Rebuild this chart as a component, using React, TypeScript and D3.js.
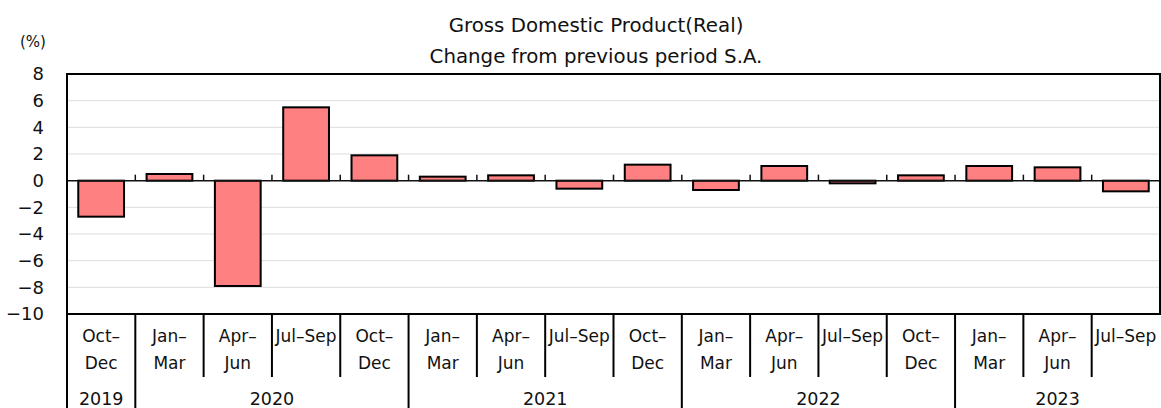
import React from 'react';
import * as d3 from 'd3';

// quarterly real GDP, % change from previous period (s.a.)
const quarterLines = [
  ['Oct\u2013', 'Dec'], ['Jan\u2013', 'Mar'], ['Apr\u2013', 'Jun'], ['Jul\u2013Sep', ''],
  ['Oct\u2013', 'Dec'], ['Jan\u2013', 'Mar'], ['Apr\u2013', 'Jun'], ['Jul\u2013Sep', ''],
  ['Oct\u2013', 'Dec'], ['Jan\u2013', 'Mar'], ['Apr\u2013', 'Jun'], ['Jul\u2013Sep', ''],
  ['Oct\u2013', 'Dec'], ['Jan\u2013', 'Mar'], ['Apr\u2013', 'Jun'], ['Jul\u2013Sep', ''],
];
const gdpValues = [-2.7, 0.5, -7.9, 5.5, 1.9, 0.3, 0.4, -0.6, 1.2, -0.7, 1.1, -0.2, 0.4, 1.1, 1.0, -0.8];
const years = ['2019', '2020', '2021', '2022', '2023'];
const yearSpans = [1, 4, 4, 4, 3];
const yTicks = [8, 6, 4, 2, 0, -2, -4, -6, -8, -10];

const W = 1161;
const H = 408;
const left = 67;
const right = 1160;
const top = 74;
const bottom = 314;
const ff = { fontFamily: "'DejaVu Sans', sans-serif" };

export default function App() {
  const idx = d3.range(gdpValues.length);
  const x = d3.scaleBand<number>().domain(idx).range([left, right]).paddingInner(0.33).paddingOuter(0.165);
  const band = d3.scaleBand<number>().domain(idx).range([left, right]);
  const y = d3.scaleLinear().domain([-10, 8]).range([bottom, top]);

  const yearStarts = yearSpans.map((_, i) => d3.sum(yearSpans.slice(0, i)));

  return (
    <svg width={W} height={H} style={{ position: 'absolute', left: 0, top: 0 }}>
      <rect width={W} height={H} fill="#fff" />
      <text x={596} y={32} textAnchor="middle" fontSize={19.8} fill="#111" style={ff}>Gross Domestic Product(Real)</text>
      <text x={596} y={63} textAnchor="middle" fontSize={19.8} fill="#111" style={ff}>Change from previous period S.A.</text>
      <text x={20} y={47} fontSize={15} fill="#111" style={ff}>(%)</text>

      {yTicks.filter(t => t !== 8 && t !== -10 && t !== 0).map(t => (
        <line key={t} x1={left} x2={right} y1={y(t)} y2={y(t)} stroke="#ddd" strokeWidth={1} />
      ))}
      {yTicks.map(t => (
        <text key={t} x={44} y={y(t)} dy="0.36em" textAnchor="end" fontSize={18} fill="#111" style={ff}>
          {d3.format('')(t).replace('-', '\u2212')}
        </text>
      ))}

      {idx.map(i => (
        <rect
          key={i}
          x={x(i)}
          y={y(Math.max(0, gdpValues[i]))}
          width={x.bandwidth()}
          height={Math.abs(y(gdpValues[i]) - y(0))}
          fill="#ff8080"
          stroke="#000"
          strokeWidth={2}
        />
      ))}

      <line x1={left} x2={right} y1={y(0)} y2={y(0)} stroke="#111" strokeWidth={1.5} />
      {idx.slice(1).map(i => (
        <line key={i} x1={band(i)} x2={band(i)} y1={y(0)} y2={y(0) - 6} stroke="#111" strokeWidth={1.5} />
      ))}

      <rect x={left} y={top} width={right - left} height={bottom - top} fill="none" stroke="#000" strokeWidth={2} />
      <line x1={left} x2={left} y1={bottom} y2={H} stroke="#000" strokeWidth={2} />

      {idx.slice(1).map(i => {
        const isYear = yearStarts.includes(i);
        return (
          <line key={i} x1={band(i)} x2={band(i)} y1={bottom} y2={isYear ? H : 377} stroke="#000" strokeWidth={2} />
        );
      })}

      {idx.map(i => (
        <g key={i} fontSize={17} fill="#111" textAnchor="middle" style={ff}>
          <text x={(band(i) as number) + band.bandwidth() / 2} y={342}>{quarterLines[i][0]}</text>
          <text x={(band(i) as number) + band.bandwidth() / 2} y={369}>{quarterLines[i][1]}</text>
        </g>
      ))}

      {years.map((yr, k) => {
        const s = band(yearStarts[k]) as number;
        const w = yearSpans[k] * band.bandwidth();
        return (
          <text key={yr} x={s + w / 2} y={405} textAnchor="middle" fontSize={17.5} fill="#111" style={ff}>{yr}</text>
        );
      })}
    </svg>
  );
}
